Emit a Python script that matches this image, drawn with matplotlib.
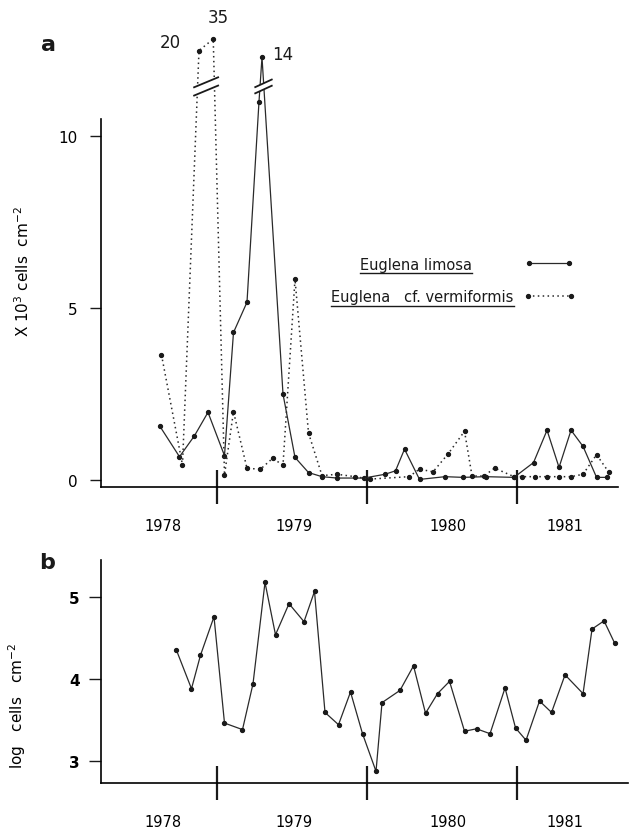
import numpy as np
import matplotlib
matplotlib.use("Agg")
import matplotlib.pyplot as plt
from matplotlib.lines import Line2D

# ---- data (x in decimal years) ----
limosa_x = [1978.62, 1978.75, 1978.85, 1978.94, 1979.05, 1979.11, 1979.20, 1979.28,
            1979.30, 1979.44, 1979.52, 1979.61, 1979.70, 1979.80, 1979.98, 1980.12,
            1980.19, 1980.25, 1980.35, 1980.52, 1980.64, 1980.79, 1980.98, 1981.11,
            1981.20, 1981.28, 1981.36, 1981.44, 1981.53, 1981.60]
limosa_y = [1.56, 0.68, 1.29, 1.97, 0.71, 4.29, 5.17, 11.0,
            14.0, 2.5, 0.66, 0.22, 0.10, 0.06, 0.06, 0.17,
            0.27, 0.90, 0.02, 0.10, 0.08, 0.10, 0.08, 0.51,
            1.45, 0.37, 1.45, 0.98, 0.08, 0.08]

verm_x = [1978.63, 1978.77, 1978.88, 1978.975, 1979.05, 1979.11, 1979.20, 1979.29,
          1979.37, 1979.44, 1979.52, 1979.61, 1979.70, 1979.80, 1979.92, 1980.02,
          1980.28, 1980.35, 1980.44, 1980.54, 1980.65, 1980.70, 1980.78, 1980.85,
          1980.98, 1981.03, 1981.12, 1981.20, 1981.28, 1981.36, 1981.44, 1981.53,
          1981.61]
verm_y = [3.64, 0.44, 20.0, 35.0, 0.15, 1.99, 0.34, 0.32,
          0.63, 0.44, 5.84, 1.37, 0.13, 0.17, 0.10, 0.03,
          0.10, 0.32, 0.24, 0.76, 1.42, 0.12, 0.12, 0.35,
          0.10, 0.10, 0.10, 0.10, 0.10, 0.10, 0.17, 0.74,
          0.24]

total_x = [1978.73, 1978.83, 1978.89, 1978.98, 1979.05, 1979.17, 1979.24, 1979.32,
           1979.39, 1979.48, 1979.58, 1979.65, 1979.72, 1979.81, 1979.89, 1979.97,
           1980.06, 1980.10, 1980.22, 1980.31, 1980.39, 1980.47, 1980.55, 1980.65,
           1980.73, 1980.82, 1980.92, 1980.99, 1981.06, 1981.15, 1981.23, 1981.32,
           1981.44, 1981.50, 1981.58, 1981.65]
total_log = [4.35, 3.88, 4.29, 4.76, 3.46, 3.38, 3.94, 5.18,
             4.54, 4.92, 4.70, 5.07, 3.59, 3.44, 3.84, 3.33,
             2.87, 3.71, 3.86, 4.16, 3.58, 3.82, 3.97, 3.36,
             3.39, 3.33, 3.89, 3.40, 3.25, 3.73, 3.59, 4.05,
             3.82, 4.61, 4.71, 4.44]

year_bounds = [1979, 1980, 1981]
year_labels = ["1978", "1979", "1980", "1981"]
year_label_pos = [1978.64, 1979.51, 1980.54, 1981.32]

# broken axis: linear up to 12, compressed above
brk_in = [-10, 12, 14, 20, 35, 60]
brk_out = [-10, 12, 12.29, 12.48, 12.82, 13.69]


def fwd(v):
    return np.interp(v, brk_in, brk_out)


def inv(v):
    return np.interp(v, brk_out, brk_in)


ink = "#1a1a1a"
plt.rcParams["font.family"] = "DejaVu Sans"
plt.rcParams["text.color"] = ink

fig = plt.figure(figsize=(6.35, 8.29), dpi=100)
ax1 = fig.add_axes([0.1591, 1 - 488 / 829, 0.8394, 478 / 829])
ax2 = fig.add_axes([0.1591, 1 - 784 / 829, 0.8394, 239 / 829])

for ax in (ax1, ax2):
    ax.spines["top"].set_visible(False)
    ax.spines["right"].set_visible(False)
    ax.spines["left"].set_linewidth(1.2)
    ax.spines["bottom"].set_linewidth(1.2)
    ax.set_xlim(1978.227, 1981.78)
    ax.set_xticks(year_bounds)
    ax.set_xticklabels([])
    ax.set_xticks(year_label_pos, minor=True)
    ax.set_xticklabels(year_labels, minor=True, fontsize=10.5)
    ax.tick_params(axis="x", which="major", direction="inout", length=24, width=1.6, color=ink)
    ax.tick_params(axis="x", which="minor", length=0, pad=22)
    ax.tick_params(axis="y", direction="out", color=ink, width=1.0)

# ---- panel a ----
ax1.set_yscale("function", functions=(fwd, inv))
ax1.set_ylim(-0.2, 60)
ax1.spines["left"].set_bounds(-0.2, 10.5)
ax1.spines["bottom"].set_bounds(1978.227, 1981.67)
ax1.set_yticks([0, 5, 10])
ax1.set_yticklabels(["0", "5", "10"], fontsize=11)
ax1.yaxis.set_minor_locator(matplotlib.ticker.NullLocator())
ax1.tick_params(axis="y", length=8, pad=9)

ax1.plot(limosa_x, limosa_y, color="#2a2a2a", lw=0.9, marker="o", ms=2.8,
         mfc=ink, mec=ink, zorder=3, label="Euglena limosa")
ax1.plot(verm_x, verm_y, color="#2a2a2a", lw=1.1, ls=(0, (1, 2.2)), marker="o", ms=2.8,
         mfc=ink, mec=ink, zorder=3, label="Euglena   cf. vermiformis")

# break marks where the peaks leave the axis range
v_peaks = [i for i, v in enumerate(verm_y) if v > 12]
l_peaks = [i for i, v in enumerate(limosa_y) if v > 12]
breaks = [
    (np.mean([verm_x[i] for i in v_peaks]), 0.08, 11.56, 11.32, 0.145),
    (np.mean([limosa_x[i] for i in l_peaks]) + 0.01, 0.055, 11.53, 11.35, 0.11),
]
for xc, hw, yu, yl, dy in breaks:
    ax1.fill([xc - hw, xc + hw, xc + hw, xc - hw],
             [yu - dy, yu + dy, yl + dy, yl - dy], color="white", zorder=4, lw=0)
    for yc in (yu, yl):
        ax1.plot([xc - hw, xc + hw], [yc - dy, yc + dy], color=ink, lw=1.3, zorder=5)

ax1.annotate("20", (verm_x[v_peaks[0]], verm_y[v_peaks[0]]), xytext=(-21, 6),
             textcoords="offset points", ha="center", va="center", fontsize=12)
ax1.annotate("35", (verm_x[v_peaks[1]], verm_y[v_peaks[1]]), xytext=(3.6, 15.6),
             textcoords="offset points", ha="center", va="center", fontsize=12)
ax1.annotate("14", (limosa_x[l_peaks[0]], limosa_y[l_peaks[0]]), xytext=(14.7, 2),
             textcoords="offset points", ha="center", va="center", fontsize=12)

ax1.set_ylabel(r"X $10^3$ cells  cm$^{-2}$", fontsize=11)
ax1.yaxis.set_label_coords(-0.1295, 0.452)

h1, h2 = ax1.get_lines()[:2]
leg1 = ax1.legend(handles=[h1], loc="center right", bbox_to_anchor=(0.8856, 0.4665),
                  markerfirst=False, numpoints=2, frameon=False, fontsize=10.5,
                  handlelength=3.3, handletextpad=3.6, borderpad=0, borderaxespad=0)
ax1.add_artist(leg1)
leg2 = ax1.legend(handles=[h2], loc="center right", bbox_to_anchor=(0.8893, 0.3975),
                  markerfirst=False, numpoints=2, frameon=False, fontsize=10.5,
                  handlelength=3.5, handletextpad=0.7, borderpad=0, borderaxespad=0)

# ---- panel b ----
ax2.set_ylim(2.727, 5.65)
ax2.spines["left"].set_bounds(2.727, 5.45)
ax2.spines["bottom"].set_bounds(1978.227, 1981.74)
ax2.set_yticks([3, 4, 5])
ax2.set_yticklabels(["3", "4", "5"], fontsize=11, fontweight="bold")
ax2.tick_params(axis="y", length=9, pad=6.5)
ax2.plot(total_x, total_log, color="#2a2a2a", lw=0.9, marker="o", ms=2.8,
         mfc=ink, mec=ink, zorder=3)
ax2.set_ylabel(r"log   cells   cm$^{-2}$", fontsize=11)
ax2.yaxis.set_label_coords(-0.137, 0.326)

fig.text(49 / 635, 1 - 45 / 829, "a", fontsize=16, fontweight="bold", ha="center", va="center")
fig.text(47 / 635, 1 - 563 / 829, "b", fontsize=16, fontweight="bold", ha="center", va="center")

# underline the legend names
fig.canvas.draw()
renderer = fig.canvas.get_renderer()
to_fig = fig.transFigure.inverted()
for leg in (leg1, leg2):
    for t in leg.get_texts():
        bb = t.get_window_extent(renderer)
        (x0, y0), (x1, _) = to_fig.transform([(bb.x0, bb.y0 - 1.5), (bb.x1, bb.y0)])
        fig.add_artist(Line2D([x0, x1], [y0, y0], transform=fig.transFigure, color=ink, lw=1.0))

fig.savefig("out.png", dpi=100)
